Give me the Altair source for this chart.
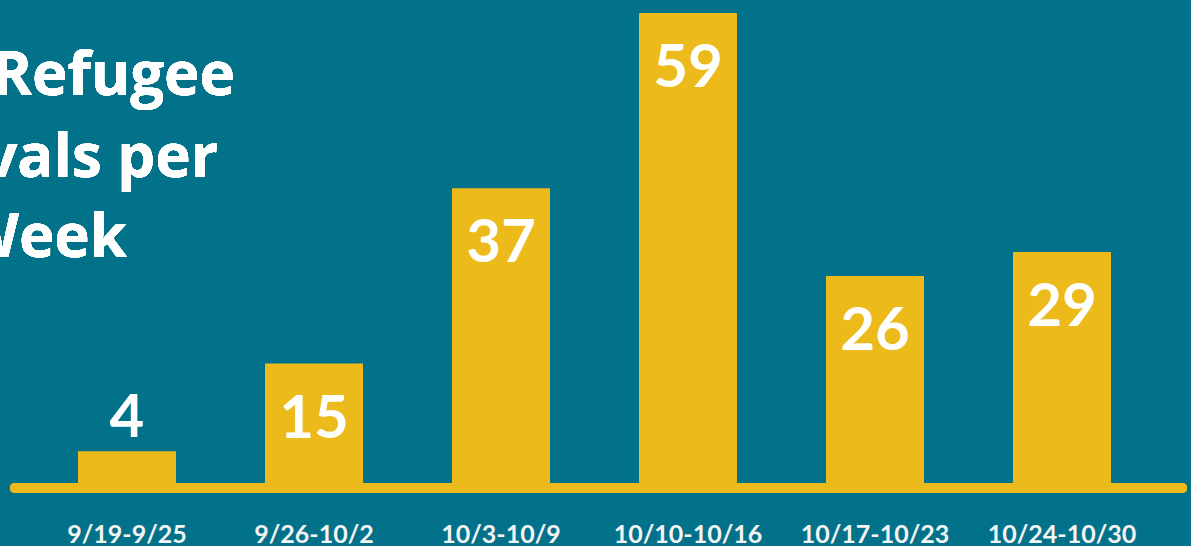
import altair as alt
import pandas as pd

weeks = ["9/19-9/25", "9/26-10/2", "10/3-10/9", "10/10-10/16", "10/17-10/23", "10/24-10/30"]
arrivals = [4, 15, 37, 59, 26, 29]
title_lines = ["Refugee", "Arrivals per", "Week"]

BG = "#02718A"
YELLOW = "#ECBB1B"
WHITE = "#FFFFFF"
FONT = "Lato"
TITLE_FONT = "Open Sans"

df = pd.DataFrame({"week": weeks, "arrivals": arrivals})

xenc = alt.X("week:N", sort=weeks, axis=None,
             scale=alt.Scale(range=[33.5, 1155.5], paddingInner=0.476, paddingOuter=0.238))
yscale = alt.Scale(domain=[0, 59], range=[483, 13], nice=False, zero=True)
yenc = alt.Y("arrivals:Q", axis=None, scale=yscale)

base = alt.Chart(df)

bars = base.mark_bar(color=YELLOW).encode(x=xenc, y=yenc)

rule = base.mark_rule(color=YELLOW, strokeWidth=10, strokeCap="round").encode(
    x=alt.value(15), x2=alt.value(1182), y=alt.value(488)
)

labels_in = base.transform_filter(alt.datum.arrivals >= 10).mark_text(
    font=FONT, fontWeight="bold", fontSize=60, color=WHITE, baseline="middle", dy=56
).encode(x=xenc, y=yenc, text="arrivals:Q")

labels_out = base.transform_filter(alt.datum.arrivals < 10).mark_text(
    font=FONT, fontWeight="bold", fontSize=60, color=WHITE, baseline="middle", dy=-32
).encode(x=xenc, y=yenc, text="arrivals:Q")

xlabels = base.mark_text(
    font=FONT, fontWeight="bold", fontSize=25, color="#F4F4F4", baseline="alphabetic"
).encode(x=xenc, y=alt.value(543), text="week:N")

title_layers = []
for line, xr, yb in zip(title_lines, [235, 218, 127], [95, 177, 257]):
    title_layers.append(
        alt.Chart(df).mark_text(
            font=TITLE_FONT, fontWeight="bold", fontSize=60, color=WHITE,
            align="right", baseline="alphabetic"
        ).encode(x=alt.value(xr), y=alt.value(yb), text=alt.value(line))
    )

chart = alt.layer(bars, rule, labels_in, labels_out, xlabels, *title_layers).properties(
    width=1191, height=546, background=BG, padding=0, autosize="none"
).configure_view(strokeWidth=0)

chart.save("out.html", embed_options={"renderer": "svg", "actions": False})
